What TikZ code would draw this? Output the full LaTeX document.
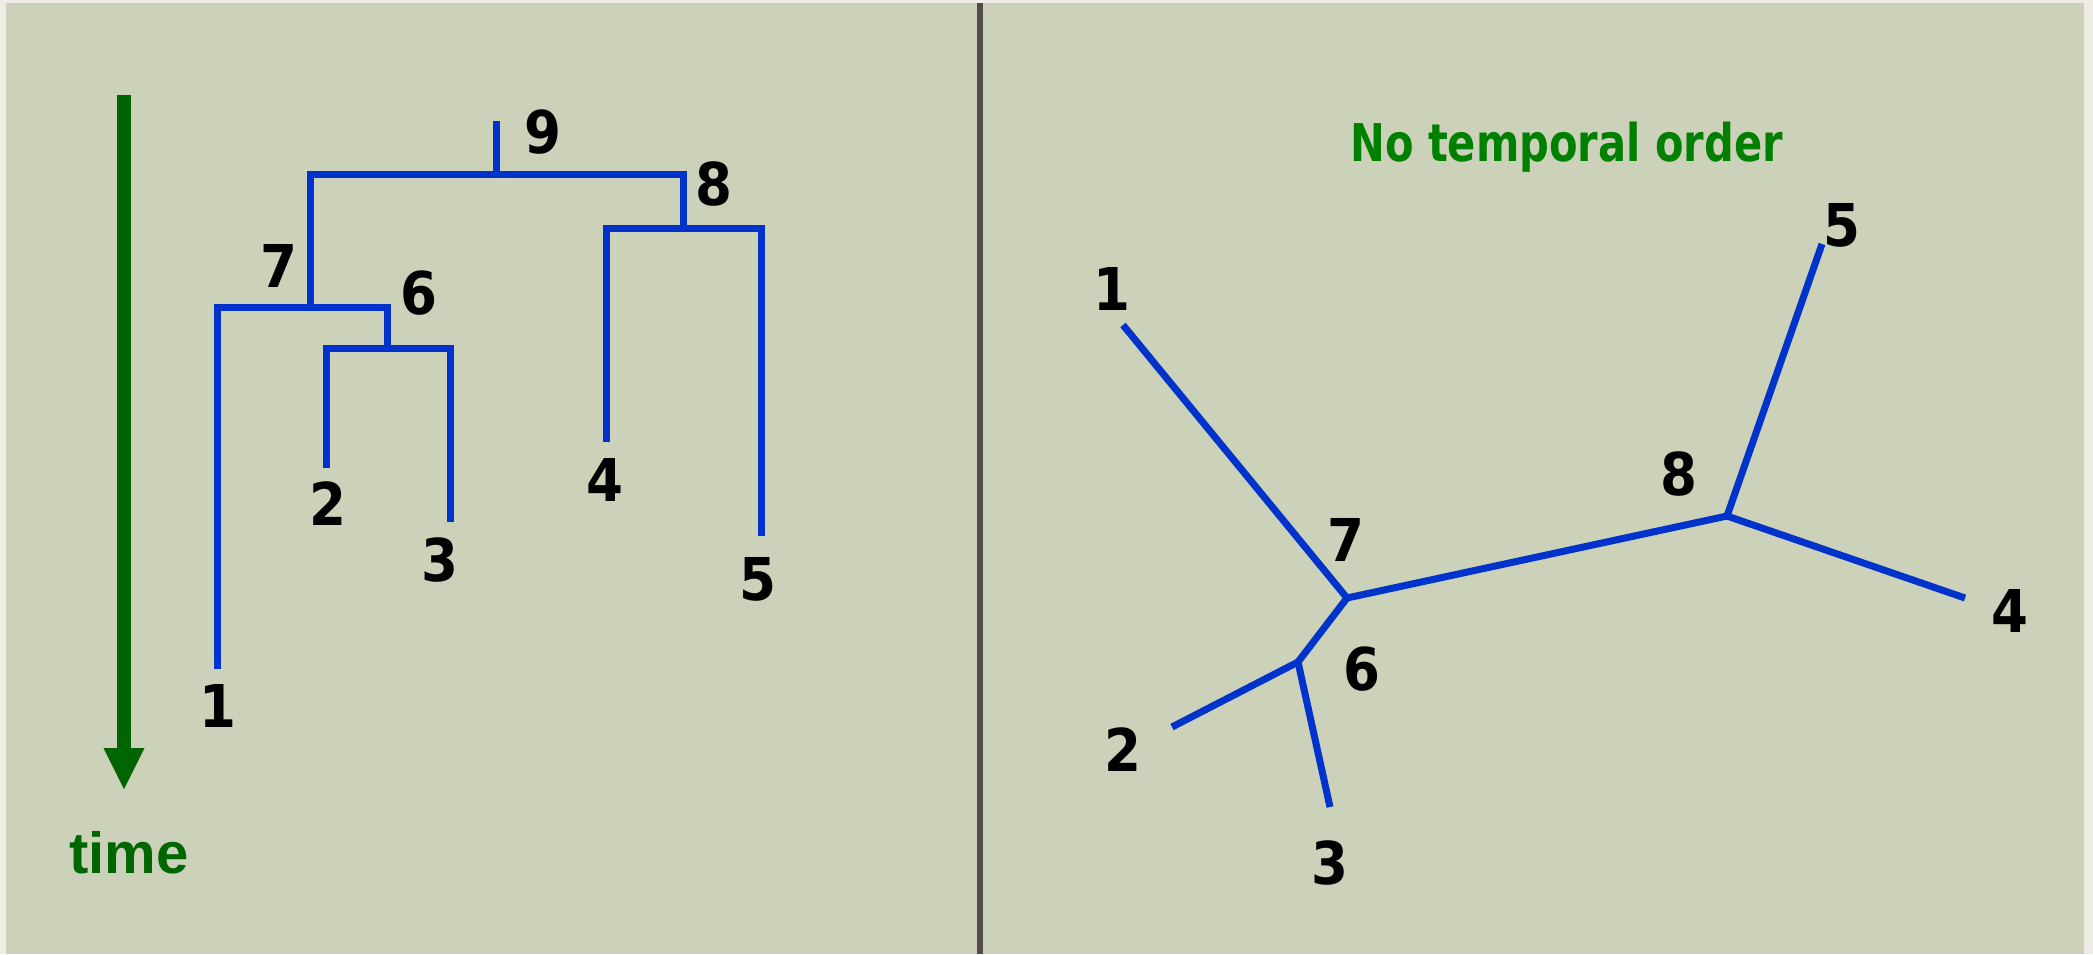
\documentclass[tikz,border=0pt]{standalone}
\usepackage{fontspec}
\setmainfont{DejaVu Sans}
\newfontfamily\numfont[FakeStretch=0.9]{DejaVu Sans}
\newfontfamily\titlefont[FakeStretch=0.8]{DejaVu Sans}
\newfontfamily\timefont{Liberation Sans}
\definecolor{frame}{RGB}{239,236,229}
\definecolor{panel}{RGB}{204,209,185}
\definecolor{divider}{RGB}{85,75,75}
\definecolor{treeblue}{RGB}{0,51,204}
\definecolor{arrowgreen}{RGB}{0,100,0}
\definecolor{timegreen}{RGB}{0,102,0}
\definecolor{titlegreen}{RGB}{0,128,0}
\tikzset{
  branch/.style={draw=treeblue, line width=7pt},
  numlabel/.style={inner sep=0pt, font=\numfont\bfseries\fontsize{59}{59}\selectfont, text=black},
}
\begin{document}
\begin{tikzpicture}[x=1pt,y=-1pt]
\useasboundingbox (0,0) rectangle (2093,954);
\fill[frame] (0,0) rectangle (2093,954);
\fill[panel] (6,3) rectangle (2084,954);
\fill[divider] (977,3) rectangle (983,954);

% time arrow
\coordinate (sTop) at (124,95);
\coordinate (hBase) at (124,748);
\coordinate (hTip) at (124,789);
\fill[arrowgreen] ([xshift=-7pt]sTop) rectangle ([xshift=7pt]hBase);
\fill[arrowgreen] ([xshift=-20.5pt]hBase) -- ([xshift=20.5pt]hBase) -- (hTip) -- cycle;
\node[anchor=base, inner sep=0pt, text=timegreen, font=\timefont\bfseries\fontsize{58}{58}\selectfont] (time) at (129,873) {time};

% rooted tree (left)
\coordinate (t9) at (496,121);
\coordinate (a9) at (496,174);
\coordinate (a7) at (310,307);
\coordinate (a8) at (683,228);
\coordinate (a6) at (387,348);
\coordinate (L1) at (217,669);
\coordinate (L2) at (326,468);
\coordinate (L3) at (450,522);
\coordinate (L4) at (606,442);
\coordinate (L5) at (761,536);
\draw[branch] (t9) -- (a9);
\draw[branch] (a7) |- (a9) -| (a8);
\draw[branch] (L1) |- (a7) -| (a6);
\draw[branch] (L2) |- (a6) -| (L3);
\draw[branch] (L4) |- (a8) -| (L5);

\node[numlabel] (lab9) at (543,132) {9};
\node[numlabel] (lab8) at (714,184) {8};
\node[numlabel] (lab7) at (279,266) {7};
\node[numlabel] (lab6) at (419,293) {6};
\node[numlabel] (lab1) at (218,706) {1};
\node[numlabel] (lab2) at (328,504) {2};
\node[numlabel] (lab3) at (440,560) {3};
\node[numlabel] (lab4) at (605,480) {4};
\node[numlabel] (lab5) at (758,579) {5};

% unrooted tree (right)
\node[anchor=base, inner sep=0pt, text=titlegreen, font=\titlefont\bfseries\fontsize{52}{52}\selectfont] (title) at (1566.5,161) {No temporal order};
\coordinate (r7) at (1347,598);
\coordinate (r6) at (1298,662);
\coordinate (r8) at (1727,516);
\coordinate (R1) at (1123,325);
\coordinate (R5) at (1822,244);
\coordinate (R4) at (1965,598);
\coordinate (R2) at (1172,727);
\coordinate (R3) at (1330,807);
\draw[branch] (R1) -- (r7);
\draw[branch] (r7) -- (r8);
\draw[branch] (r8) -- (R5);
\draw[branch] (r8) -- (R4);
\draw[branch] (r7) -- (r6);
\draw[branch] (r6) -- (R2);
\draw[branch] (r6) -- (R3);

\node[numlabel] (rl1) at (1112,289) {1};
\node[numlabel] (rl5) at (1842,225) {5};
\node[numlabel] (rl8) at (1679,474) {8};
\node[numlabel] (rl7) at (1346,540) {7};
\node[numlabel] (rl6) at (1362,669) {6};
\node[numlabel] (rl4) at (2010,611) {4};
\node[numlabel] (rl2) at (1123,750) {2};
\node[numlabel] (rl3) at (1330,863) {3};
\end{tikzpicture}
\end{document}
